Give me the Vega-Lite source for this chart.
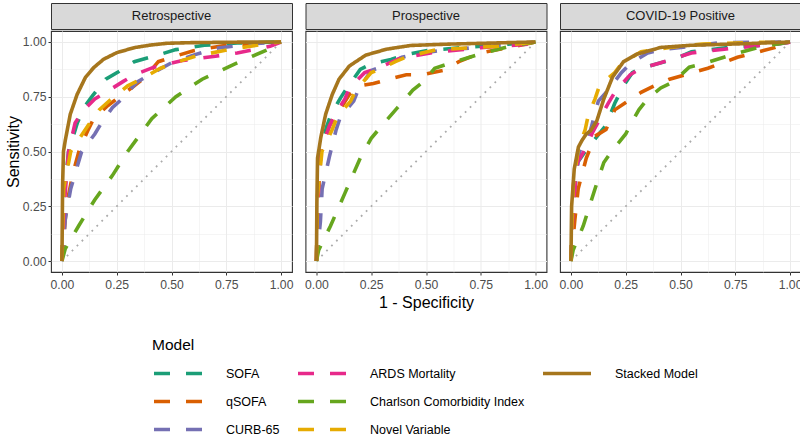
{
  "$schema": "https://vega.github.io/schema/vega-lite/v6.json",
  "padding": {"left": 4, "top": 2, "right": 0, "bottom": 0},
  "background": "white",
  "datasets": {
    "diag": [{"fpr": 0, "tpr": 0}, {"fpr": 1, "tpr": 1}],
    "retro": [
      {"model":"SOFA","fpr":0,"tpr":0},{"model":"SOFA","fpr":0.01,"tpr":0.3},{"model":"SOFA","fpr":0.03,"tpr":0.5},{"model":"SOFA","fpr":0.07,"tpr":0.63},{"model":"SOFA","fpr":0.1,"tpr":0.7},{"model":"SOFA","fpr":0.14,"tpr":0.755},{"model":"SOFA","fpr":0.2,"tpr":0.83},{"model":"SOFA","fpr":0.26,"tpr":0.865},{"model":"SOFA","fpr":0.33,"tpr":0.91},{"model":"SOFA","fpr":0.42,"tpr":0.935},{"model":"SOFA","fpr":0.52,"tpr":0.965},{"model":"SOFA","fpr":0.65,"tpr":0.985},{"model":"SOFA","fpr":0.8,"tpr":0.995},{"model":"SOFA","fpr":1,"tpr":1},
      {"model":"qSOFA","fpr":0,"tpr":0},{"model":"qSOFA","fpr":0.02,"tpr":0.25},{"model":"qSOFA","fpr":0.05,"tpr":0.4},{"model":"qSOFA","fpr":0.08,"tpr":0.51},{"model":"qSOFA","fpr":0.12,"tpr":0.6},{"model":"qSOFA","fpr":0.145,"tpr":0.65},{"model":"qSOFA","fpr":0.21,"tpr":0.71},{"model":"qSOFA","fpr":0.25,"tpr":0.74},{"model":"qSOFA","fpr":0.33,"tpr":0.8},{"model":"qSOFA","fpr":0.38,"tpr":0.84},{"model":"qSOFA","fpr":0.44,"tpr":0.91},{"model":"qSOFA","fpr":0.5,"tpr":0.93},{"model":"qSOFA","fpr":0.6,"tpr":0.96},{"model":"qSOFA","fpr":0.75,"tpr":0.985},{"model":"qSOFA","fpr":1,"tpr":1},
      {"model":"CURB-65","fpr":0,"tpr":0},{"model":"CURB-65","fpr":0.015,"tpr":0.19},{"model":"CURB-65","fpr":0.04,"tpr":0.33},{"model":"CURB-65","fpr":0.09,"tpr":0.5},{"model":"CURB-65","fpr":0.15,"tpr":0.58},{"model":"CURB-65","fpr":0.18,"tpr":0.63},{"model":"CURB-65","fpr":0.23,"tpr":0.7},{"model":"CURB-65","fpr":0.28,"tpr":0.745},{"model":"CURB-65","fpr":0.34,"tpr":0.815},{"model":"CURB-65","fpr":0.4,"tpr":0.85},{"model":"CURB-65","fpr":0.5,"tpr":0.905},{"model":"CURB-65","fpr":0.6,"tpr":0.94},{"model":"CURB-65","fpr":0.7,"tpr":0.97},{"model":"CURB-65","fpr":0.85,"tpr":0.99},{"model":"CURB-65","fpr":1,"tpr":1},
      {"model":"ARDS Mortality","fpr":0,"tpr":0},{"model":"ARDS Mortality","fpr":0.01,"tpr":0.25},{"model":"ARDS Mortality","fpr":0.03,"tpr":0.5},{"model":"ARDS Mortality","fpr":0.06,"tpr":0.63},{"model":"ARDS Mortality","fpr":0.1,"tpr":0.69},{"model":"ARDS Mortality","fpr":0.15,"tpr":0.74},{"model":"ARDS Mortality","fpr":0.2,"tpr":0.77},{"model":"ARDS Mortality","fpr":0.28,"tpr":0.82},{"model":"ARDS Mortality","fpr":0.33,"tpr":0.85},{"model":"ARDS Mortality","fpr":0.42,"tpr":0.885},{"model":"ARDS Mortality","fpr":0.55,"tpr":0.915},{"model":"ARDS Mortality","fpr":0.7,"tpr":0.935},{"model":"ARDS Mortality","fpr":0.8,"tpr":0.95},{"model":"ARDS Mortality","fpr":0.95,"tpr":0.98},{"model":"ARDS Mortality","fpr":1,"tpr":1},
      {"model":"Charlson Comorbidity Index","fpr":0,"tpr":0},{"model":"Charlson Comorbidity Index","fpr":0.015,"tpr":0.056},{"model":"Charlson Comorbidity Index","fpr":0.076,"tpr":0.16},{"model":"Charlson Comorbidity Index","fpr":0.15,"tpr":0.28},{"model":"Charlson Comorbidity Index","fpr":0.23,"tpr":0.39},{"model":"Charlson Comorbidity Index","fpr":0.3,"tpr":0.5},{"model":"Charlson Comorbidity Index","fpr":0.41,"tpr":0.65},{"model":"Charlson Comorbidity Index","fpr":0.52,"tpr":0.75},{"model":"Charlson Comorbidity Index","fpr":0.64,"tpr":0.83},{"model":"Charlson Comorbidity Index","fpr":0.79,"tpr":0.9},{"model":"Charlson Comorbidity Index","fpr":0.95,"tpr":0.97},{"model":"Charlson Comorbidity Index","fpr":1,"tpr":1},
      {"model":"Novel Variable","fpr":0,"tpr":0},{"model":"Novel Variable","fpr":0.008,"tpr":0.33},{"model":"Novel Variable","fpr":0.04,"tpr":0.5},{"model":"Novel Variable","fpr":0.08,"tpr":0.56},{"model":"Novel Variable","fpr":0.12,"tpr":0.62},{"model":"Novel Variable","fpr":0.17,"tpr":0.69},{"model":"Novel Variable","fpr":0.22,"tpr":0.735},{"model":"Novel Variable","fpr":0.3,"tpr":0.8},{"model":"Novel Variable","fpr":0.36,"tpr":0.83},{"model":"Novel Variable","fpr":0.45,"tpr":0.88},{"model":"Novel Variable","fpr":0.5,"tpr":0.9},{"model":"Novel Variable","fpr":0.61,"tpr":0.935},{"model":"Novel Variable","fpr":0.76,"tpr":0.965},{"model":"Novel Variable","fpr":0.92,"tpr":0.99},{"model":"Novel Variable","fpr":1,"tpr":1},
      {"model":"Stacked Model","fpr":0,"tpr":0},{"model":"Stacked Model","fpr":0.003,"tpr":0.35},{"model":"Stacked Model","fpr":0.007,"tpr":0.5},{"model":"Stacked Model","fpr":0.015,"tpr":0.55},{"model":"Stacked Model","fpr":0.038,"tpr":0.67},{"model":"Stacked Model","fpr":0.069,"tpr":0.76},{"model":"Stacked Model","fpr":0.107,"tpr":0.838},{"model":"Stacked Model","fpr":0.145,"tpr":0.883},{"model":"Stacked Model","fpr":0.19,"tpr":0.921},{"model":"Stacked Model","fpr":0.25,"tpr":0.951},{"model":"Stacked Model","fpr":0.33,"tpr":0.974},{"model":"Stacked Model","fpr":0.405,"tpr":0.986},{"model":"Stacked Model","fpr":0.48,"tpr":0.994},{"model":"Stacked Model","fpr":0.6,"tpr":0.997},{"model":"Stacked Model","fpr":0.8,"tpr":0.999},{"model":"Stacked Model","fpr":1,"tpr":1}
    ],
    "pros": [
      {"model":"SOFA","fpr":0,"tpr":0},{"model":"SOFA","fpr":0.005,"tpr":0.25},{"model":"SOFA","fpr":0.02,"tpr":0.5},{"model":"SOFA","fpr":0.045,"tpr":0.61},{"model":"SOFA","fpr":0.065,"tpr":0.665},{"model":"SOFA","fpr":0.11,"tpr":0.745},{"model":"SOFA","fpr":0.14,"tpr":0.79},{"model":"SOFA","fpr":0.2,"tpr":0.875},{"model":"SOFA","fpr":0.25,"tpr":0.9},{"model":"SOFA","fpr":0.34,"tpr":0.92},{"model":"SOFA","fpr":0.4,"tpr":0.94},{"model":"SOFA","fpr":0.5,"tpr":0.96},{"model":"SOFA","fpr":0.67,"tpr":0.975},{"model":"SOFA","fpr":0.82,"tpr":0.985},{"model":"SOFA","fpr":1,"tpr":1},
      {"model":"qSOFA","fpr":0,"tpr":0},{"model":"qSOFA","fpr":0.005,"tpr":0.25},{"model":"qSOFA","fpr":0.02,"tpr":0.5},{"model":"qSOFA","fpr":0.06,"tpr":0.62},{"model":"qSOFA","fpr":0.1,"tpr":0.68},{"model":"qSOFA","fpr":0.15,"tpr":0.76},{"model":"qSOFA","fpr":0.2,"tpr":0.8},{"model":"qSOFA","fpr":0.26,"tpr":0.81},{"model":"qSOFA","fpr":0.33,"tpr":0.83},{"model":"qSOFA","fpr":0.41,"tpr":0.85},{"model":"qSOFA","fpr":0.48,"tpr":0.85},{"model":"qSOFA","fpr":0.58,"tpr":0.87},{"model":"qSOFA","fpr":0.65,"tpr":0.91},{"model":"qSOFA","fpr":0.75,"tpr":0.95},{"model":"qSOFA","fpr":0.88,"tpr":0.975},{"model":"qSOFA","fpr":1,"tpr":1},
      {"model":"CURB-65","fpr":0,"tpr":0},{"model":"CURB-65","fpr":0.018,"tpr":0.18},{"model":"CURB-65","fpr":0.026,"tpr":0.33},{"model":"CURB-65","fpr":0.06,"tpr":0.48},{"model":"CURB-65","fpr":0.09,"tpr":0.6},{"model":"CURB-65","fpr":0.11,"tpr":0.66},{"model":"CURB-65","fpr":0.17,"tpr":0.73},{"model":"CURB-65","fpr":0.19,"tpr":0.78},{"model":"CURB-65","fpr":0.25,"tpr":0.87},{"model":"CURB-65","fpr":0.31,"tpr":0.89},{"model":"CURB-65","fpr":0.39,"tpr":0.93},{"model":"CURB-65","fpr":0.45,"tpr":0.945},{"model":"CURB-65","fpr":0.56,"tpr":0.96},{"model":"CURB-65","fpr":0.79,"tpr":0.98},{"model":"CURB-65","fpr":1,"tpr":1},
      {"model":"ARDS Mortality","fpr":0,"tpr":0},{"model":"ARDS Mortality","fpr":0.005,"tpr":0.25},{"model":"ARDS Mortality","fpr":0.02,"tpr":0.5},{"model":"ARDS Mortality","fpr":0.057,"tpr":0.61},{"model":"ARDS Mortality","fpr":0.08,"tpr":0.66},{"model":"ARDS Mortality","fpr":0.13,"tpr":0.74},{"model":"ARDS Mortality","fpr":0.15,"tpr":0.79},{"model":"ARDS Mortality","fpr":0.22,"tpr":0.86},{"model":"ARDS Mortality","fpr":0.28,"tpr":0.88},{"model":"ARDS Mortality","fpr":0.38,"tpr":0.925},{"model":"ARDS Mortality","fpr":0.52,"tpr":0.95},{"model":"ARDS Mortality","fpr":0.75,"tpr":0.974},{"model":"ARDS Mortality","fpr":0.97,"tpr":0.99},{"model":"ARDS Mortality","fpr":1,"tpr":1},
      {"model":"Charlson Comorbidity Index","fpr":0,"tpr":0},{"model":"Charlson Comorbidity Index","fpr":0.01,"tpr":0.05},{"model":"Charlson Comorbidity Index","fpr":0.064,"tpr":0.16},{"model":"Charlson Comorbidity Index","fpr":0.13,"tpr":0.31},{"model":"Charlson Comorbidity Index","fpr":0.2,"tpr":0.47},{"model":"Charlson Comorbidity Index","fpr":0.25,"tpr":0.56},{"model":"Charlson Comorbidity Index","fpr":0.3,"tpr":0.62},{"model":"Charlson Comorbidity Index","fpr":0.37,"tpr":0.7},{"model":"Charlson Comorbidity Index","fpr":0.44,"tpr":0.78},{"model":"Charlson Comorbidity Index","fpr":0.49,"tpr":0.82},{"model":"Charlson Comorbidity Index","fpr":0.54,"tpr":0.88},{"model":"Charlson Comorbidity Index","fpr":0.6,"tpr":0.9},{"model":"Charlson Comorbidity Index","fpr":0.73,"tpr":0.94},{"model":"Charlson Comorbidity Index","fpr":0.88,"tpr":0.98},{"model":"Charlson Comorbidity Index","fpr":1,"tpr":1},
      {"model":"Novel Variable","fpr":0,"tpr":0},{"model":"Novel Variable","fpr":0.005,"tpr":0.3},{"model":"Novel Variable","fpr":0.025,"tpr":0.5},{"model":"Novel Variable","fpr":0.072,"tpr":0.6},{"model":"Novel Variable","fpr":0.095,"tpr":0.66},{"model":"Novel Variable","fpr":0.156,"tpr":0.73},{"model":"Novel Variable","fpr":0.18,"tpr":0.78},{"model":"Novel Variable","fpr":0.25,"tpr":0.86},{"model":"Novel Variable","fpr":0.3,"tpr":0.88},{"model":"Novel Variable","fpr":0.36,"tpr":0.91},{"model":"Novel Variable","fpr":0.42,"tpr":0.935},{"model":"Novel Variable","fpr":0.55,"tpr":0.965},{"model":"Novel Variable","fpr":0.82,"tpr":0.98},{"model":"Novel Variable","fpr":1,"tpr":1},
      {"model":"Stacked Model","fpr":0,"tpr":0},{"model":"Stacked Model","fpr":0.002,"tpr":0.27},{"model":"Stacked Model","fpr":0.005,"tpr":0.47},{"model":"Stacked Model","fpr":0.02,"tpr":0.565},{"model":"Stacked Model","fpr":0.042,"tpr":0.67},{"model":"Stacked Model","fpr":0.072,"tpr":0.76},{"model":"Stacked Model","fpr":0.103,"tpr":0.83},{"model":"Stacked Model","fpr":0.15,"tpr":0.89},{"model":"Stacked Model","fpr":0.225,"tpr":0.94},{"model":"Stacked Model","fpr":0.32,"tpr":0.967},{"model":"Stacked Model","fpr":0.43,"tpr":0.984},{"model":"Stacked Model","fpr":0.6,"tpr":0.99},{"model":"Stacked Model","fpr":0.8,"tpr":0.995},{"model":"Stacked Model","fpr":1,"tpr":1}
    ],
    "covid": [
      {"model":"SOFA","fpr":0,"tpr":0},{"model":"SOFA","fpr":0.01,"tpr":0.25},{"model":"SOFA","fpr":0.03,"tpr":0.45},{"model":"SOFA","fpr":0.065,"tpr":0.5},{"model":"SOFA","fpr":0.12,"tpr":0.57},{"model":"SOFA","fpr":0.16,"tpr":0.62},{"model":"SOFA","fpr":0.2,"tpr":0.72},{"model":"SOFA","fpr":0.24,"tpr":0.8},{"model":"SOFA","fpr":0.28,"tpr":0.86},{"model":"SOFA","fpr":0.32,"tpr":0.88},{"model":"SOFA","fpr":0.41,"tpr":0.905},{"model":"SOFA","fpr":0.47,"tpr":0.92},{"model":"SOFA","fpr":0.55,"tpr":0.955},{"model":"SOFA","fpr":0.72,"tpr":0.975},{"model":"SOFA","fpr":0.94,"tpr":0.99},{"model":"SOFA","fpr":1,"tpr":1},
      {"model":"qSOFA","fpr":0,"tpr":0},{"model":"qSOFA","fpr":0.018,"tpr":0.19},{"model":"qSOFA","fpr":0.033,"tpr":0.33},{"model":"qSOFA","fpr":0.07,"tpr":0.47},{"model":"qSOFA","fpr":0.11,"tpr":0.57},{"model":"qSOFA","fpr":0.16,"tpr":0.6},{"model":"qSOFA","fpr":0.2,"tpr":0.69},{"model":"qSOFA","fpr":0.26,"tpr":0.73},{"model":"qSOFA","fpr":0.32,"tpr":0.77},{"model":"qSOFA","fpr":0.38,"tpr":0.8},{"model":"qSOFA","fpr":0.45,"tpr":0.83},{"model":"qSOFA","fpr":0.52,"tpr":0.85},{"model":"qSOFA","fpr":0.625,"tpr":0.88},{"model":"qSOFA","fpr":0.76,"tpr":0.93},{"model":"qSOFA","fpr":0.93,"tpr":0.974},{"model":"qSOFA","fpr":1,"tpr":1},
      {"model":"CURB-65","fpr":0,"tpr":0},{"model":"CURB-65","fpr":0.01,"tpr":0.3},{"model":"CURB-65","fpr":0.04,"tpr":0.5},{"model":"CURB-65","fpr":0.09,"tpr":0.6},{"model":"CURB-65","fpr":0.125,"tpr":0.73},{"model":"CURB-65","fpr":0.17,"tpr":0.78},{"model":"CURB-65","fpr":0.23,"tpr":0.86},{"model":"CURB-65","fpr":0.27,"tpr":0.9},{"model":"CURB-65","fpr":0.35,"tpr":0.95},{"model":"CURB-65","fpr":0.41,"tpr":0.965},{"model":"CURB-65","fpr":0.55,"tpr":0.98},{"model":"CURB-65","fpr":0.68,"tpr":0.997},{"model":"CURB-65","fpr":1,"tpr":1},
      {"model":"ARDS Mortality","fpr":0,"tpr":0},{"model":"ARDS Mortality","fpr":0.01,"tpr":0.25},{"model":"ARDS Mortality","fpr":0.03,"tpr":0.45},{"model":"ARDS Mortality","fpr":0.07,"tpr":0.52},{"model":"ARDS Mortality","fpr":0.1,"tpr":0.59},{"model":"ARDS Mortality","fpr":0.17,"tpr":0.72},{"model":"ARDS Mortality","fpr":0.2,"tpr":0.77},{"model":"ARDS Mortality","fpr":0.27,"tpr":0.85},{"model":"ARDS Mortality","fpr":0.32,"tpr":0.88},{"model":"ARDS Mortality","fpr":0.41,"tpr":0.905},{"model":"ARDS Mortality","fpr":0.47,"tpr":0.925},{"model":"ARDS Mortality","fpr":0.55,"tpr":0.95},{"model":"ARDS Mortality","fpr":0.7,"tpr":0.967},{"model":"ARDS Mortality","fpr":0.99,"tpr":0.997},{"model":"ARDS Mortality","fpr":1,"tpr":1},
      {"model":"Charlson Comorbidity Index","fpr":0,"tpr":0},{"model":"Charlson Comorbidity Index","fpr":0.01,"tpr":0.05},{"model":"Charlson Comorbidity Index","fpr":0.056,"tpr":0.16},{"model":"Charlson Comorbidity Index","fpr":0.11,"tpr":0.33},{"model":"Charlson Comorbidity Index","fpr":0.15,"tpr":0.45},{"model":"Charlson Comorbidity Index","fpr":0.185,"tpr":0.5},{"model":"Charlson Comorbidity Index","fpr":0.25,"tpr":0.58},{"model":"Charlson Comorbidity Index","fpr":0.27,"tpr":0.62},{"model":"Charlson Comorbidity Index","fpr":0.31,"tpr":0.69},{"model":"Charlson Comorbidity Index","fpr":0.35,"tpr":0.74},{"model":"Charlson Comorbidity Index","fpr":0.41,"tpr":0.79},{"model":"Charlson Comorbidity Index","fpr":0.47,"tpr":0.82},{"model":"Charlson Comorbidity Index","fpr":0.54,"tpr":0.885},{"model":"Charlson Comorbidity Index","fpr":0.6,"tpr":0.9},{"model":"Charlson Comorbidity Index","fpr":0.73,"tpr":0.94},{"model":"Charlson Comorbidity Index","fpr":0.85,"tpr":0.974},{"model":"Charlson Comorbidity Index","fpr":1,"tpr":1},
      {"model":"Novel Variable","fpr":0,"tpr":0},{"model":"Novel Variable","fpr":0.01,"tpr":0.34},{"model":"Novel Variable","fpr":0.033,"tpr":0.51},{"model":"Novel Variable","fpr":0.065,"tpr":0.6},{"model":"Novel Variable","fpr":0.08,"tpr":0.67},{"model":"Novel Variable","fpr":0.11,"tpr":0.74},{"model":"Novel Variable","fpr":0.13,"tpr":0.8},{"model":"Novel Variable","fpr":0.2,"tpr":0.86},{"model":"Novel Variable","fpr":0.23,"tpr":0.9},{"model":"Novel Variable","fpr":0.32,"tpr":0.955},{"model":"Novel Variable","fpr":0.45,"tpr":0.975},{"model":"Novel Variable","fpr":0.6,"tpr":0.99},{"model":"Novel Variable","fpr":0.8,"tpr":0.997},{"model":"Novel Variable","fpr":1,"tpr":1},
      {"model":"Stacked Model","fpr":0,"tpr":0},{"model":"Stacked Model","fpr":0.003,"tpr":0.25},{"model":"Stacked Model","fpr":0.015,"tpr":0.42},{"model":"Stacked Model","fpr":0.034,"tpr":0.52},{"model":"Stacked Model","fpr":0.05,"tpr":0.55},{"model":"Stacked Model","fpr":0.07,"tpr":0.58},{"model":"Stacked Model","fpr":0.09,"tpr":0.595},{"model":"Stacked Model","fpr":0.118,"tpr":0.64},{"model":"Stacked Model","fpr":0.15,"tpr":0.74},{"model":"Stacked Model","fpr":0.19,"tpr":0.84},{"model":"Stacked Model","fpr":0.24,"tpr":0.91},{"model":"Stacked Model","fpr":0.3,"tpr":0.944},{"model":"Stacked Model","fpr":0.41,"tpr":0.975},{"model":"Stacked Model","fpr":0.55,"tpr":0.985},{"model":"Stacked Model","fpr":0.79,"tpr":0.992},{"model":"Stacked Model","fpr":1,"tpr":1}
    ]
  },
  "spacing": 9.5,
  "hconcat": [
    {
      "spacing": 0,
      "vconcat": [
        {"width": 241, "height": 26, "data": {"values": [{"label": "Retrospective"}]}, "mark": {"type": "text", "fontSize": 13, "color": "#1A1A1A"}, "encoding": {"text": {"field": "label"}}, "view": {"fill": "#D9D9D9", "stroke": "#333333"}},
        {
          "width": 241, "height": 241,
          "encoding": {
            "x": {"field": "fpr", "type": "quantitative", "scale": {"domain": [-0.05, 1.05], "nice": false, "zero": false},
              "axis": {"title": null, "values": [0,0.125,0.25,0.375,0.5,0.625,0.75,0.875,1], "labelExpr": "abs(datum.value*4-round(datum.value*4))<0.001 ? format(datum.value,'.2f') : ''", "tickOpacity": {"condition": {"test": "abs(datum.value*4-round(datum.value*4))<0.001", "value": 1}, "value": 0}, "gridWidth": {"condition": {"test": "abs(datum.value*4-round(datum.value*4))<0.001", "value": 1}, "value": 0.5}}},
            "y": {"field": "tpr", "type": "quantitative", "scale": {"domain": [-0.05, 1.05], "nice": false, "zero": false},
              "axis": {"title": "Sensitivity", "values": [0,0.125,0.25,0.375,0.5,0.625,0.75,0.875,1], "labelExpr": "abs(datum.value*4-round(datum.value*4))<0.001 ? format(datum.value,'.2f') : ''", "tickOpacity": {"condition": {"test": "abs(datum.value*4-round(datum.value*4))<0.001", "value": 1}, "value": 0}, "gridWidth": {"condition": {"test": "abs(datum.value*4-round(datum.value*4))<0.001", "value": 1}, "value": 0.5}}}
          },
          "layer": [
            {"data": {"name": "diag"}, "mark": {"type": "line", "color": "#ABABAB", "strokeDash": [1.8, 5.2], "strokeWidth": 1.8}},
            {"data": {"name": "retro"}, "mark": {"type": "line", "strokeWidth": 3.6, "strokeCap": "butt"},
             "encoding": {
               "color": {"field": "model", "type": "nominal", "title": "Model", "scale": {"domain": ["SOFA","qSOFA","CURB-65","ARDS Mortality","Charlson Comorbidity Index","Novel Variable","Stacked Model"," "], "range": ["#1B9E77","#D95F02","#7570B3","#E7298A","#66A61E","#E6AB02","#A6761D","rgba(255,255,255,0)"]}},
               "strokeDash": {"field": "model", "type": "nominal", "title": "Model", "scale": {"domain": ["SOFA","qSOFA","CURB-65","ARDS Mortality","Charlson Comorbidity Index","Novel Variable","Stacked Model"," "], "range": [[16,16],[16,16],[16,16],[16,16],[16,16],[16,16],[1,0],[1,0]]}}
             }}
          ]
        }
      ]
    },
    {
      "spacing": 0,
      "vconcat": [
        {"width": 241, "height": 26, "data": {"values": [{"label": "Prospective"}]}, "mark": {"type": "text", "fontSize": 13, "color": "#1A1A1A"}, "encoding": {"text": {"field": "label"}}, "view": {"fill": "#D9D9D9", "stroke": "#333333"}},
        {
          "width": 241, "height": 241,
          "encoding": {
            "x": {"field": "fpr", "type": "quantitative", "scale": {"domain": [-0.05, 1.05], "nice": false, "zero": false},
              "axis": {"title": "1 - Specificity", "values": [0,0.125,0.25,0.375,0.5,0.625,0.75,0.875,1], "labelExpr": "abs(datum.value*4-round(datum.value*4))<0.001 ? format(datum.value,'.2f') : ''", "tickOpacity": {"condition": {"test": "abs(datum.value*4-round(datum.value*4))<0.001", "value": 1}, "value": 0}, "gridWidth": {"condition": {"test": "abs(datum.value*4-round(datum.value*4))<0.001", "value": 1}, "value": 0.5}}},
            "y": {"field": "tpr", "type": "quantitative", "scale": {"domain": [-0.05, 1.05], "nice": false, "zero": false},
              "axis": {"title": null, "labels": false, "ticks": false, "values": [0,0.125,0.25,0.375,0.5,0.625,0.75,0.875,1], "gridWidth": {"condition": {"test": "abs(datum.value*4-round(datum.value*4))<0.001", "value": 1}, "value": 0.5}}}
          },
          "layer": [
            {"data": {"name": "diag"}, "mark": {"type": "line", "color": "#ABABAB", "strokeDash": [1.8, 5.2], "strokeWidth": 1.8}},
            {"data": {"name": "pros"}, "mark": {"type": "line", "strokeWidth": 3.6, "strokeCap": "butt"},
             "encoding": {
               "color": {"field": "model", "type": "nominal", "title": "Model", "scale": {"domain": ["SOFA","qSOFA","CURB-65","ARDS Mortality","Charlson Comorbidity Index","Novel Variable","Stacked Model"," "], "range": ["#1B9E77","#D95F02","#7570B3","#E7298A","#66A61E","#E6AB02","#A6761D","rgba(255,255,255,0)"]}},
               "strokeDash": {"field": "model", "type": "nominal", "title": "Model", "scale": {"domain": ["SOFA","qSOFA","CURB-65","ARDS Mortality","Charlson Comorbidity Index","Novel Variable","Stacked Model"," "], "range": [[16,16],[16,16],[16,16],[16,16],[16,16],[16,16],[1,0],[1,0]]}}
             }}
          ]
        }
      ]
    },
    {
      "spacing": 0,
      "vconcat": [
        {"width": 241, "height": 26, "data": {"values": [{"label": "COVID-19 Positive"}]}, "mark": {"type": "text", "fontSize": 13, "color": "#1A1A1A"}, "encoding": {"text": {"field": "label"}}, "view": {"fill": "#D9D9D9", "stroke": "#333333"}},
        {
          "width": 241, "height": 241,
          "encoding": {
            "x": {"field": "fpr", "type": "quantitative", "scale": {"domain": [-0.05, 1.05], "nice": false, "zero": false},
              "axis": {"title": null, "values": [0,0.125,0.25,0.375,0.5,0.625,0.75,0.875,1], "labelExpr": "abs(datum.value*4-round(datum.value*4))<0.001 ? format(datum.value,'.2f') : ''", "tickOpacity": {"condition": {"test": "abs(datum.value*4-round(datum.value*4))<0.001", "value": 1}, "value": 0}, "gridWidth": {"condition": {"test": "abs(datum.value*4-round(datum.value*4))<0.001", "value": 1}, "value": 0.5}}},
            "y": {"field": "tpr", "type": "quantitative", "scale": {"domain": [-0.05, 1.05], "nice": false, "zero": false},
              "axis": {"title": null, "labels": false, "ticks": false, "values": [0,0.125,0.25,0.375,0.5,0.625,0.75,0.875,1], "gridWidth": {"condition": {"test": "abs(datum.value*4-round(datum.value*4))<0.001", "value": 1}, "value": 0.5}}}
          },
          "layer": [
            {"data": {"name": "diag"}, "mark": {"type": "line", "color": "#ABABAB", "strokeDash": [1.8, 5.2], "strokeWidth": 1.8}},
            {"data": {"name": "covid"}, "mark": {"type": "line", "strokeWidth": 3.6, "strokeCap": "butt"},
             "encoding": {
               "color": {"field": "model", "type": "nominal", "title": "Model", "scale": {"domain": ["SOFA","qSOFA","CURB-65","ARDS Mortality","Charlson Comorbidity Index","Novel Variable","Stacked Model"," "], "range": ["#1B9E77","#D95F02","#7570B3","#E7298A","#66A61E","#E6AB02","#A6761D","rgba(255,255,255,0)"]}},
               "strokeDash": {"field": "model", "type": "nominal", "title": "Model", "scale": {"domain": ["SOFA","qSOFA","CURB-65","ARDS Mortality","Charlson Comorbidity Index","Novel Variable","Stacked Model"," "], "range": [[16,16],[16,16],[16,16],[16,16],[16,16],[16,16],[1,0],[1,0]]}}
             }}
          ]
        }
      ]
    }
  ],
  "config": {
    "font": "Liberation Sans",
    "view": {"stroke": "#333333", "strokeWidth": 1.1},
    "axis": {"domain": false, "tickColor": "#333333", "tickSize": 3, "tickWidth": 1, "labelColor": "#4D4D4D", "labelFontSize": 12.2, "titleFontSize": 16, "titleFontWeight": "normal", "titleColor": "#000000", "gridColor": "#EBEBEB", "labelFlush": false, "labelOverlap": false, "labelPadding": 3},
    "axisX": {"titlePadding": 4},
    "axisY": {"titlePadding": 1, "labelPadding": 2},
    "legend": {"orient": "none", "legendX": 101, "legendY": 335, "columns": 3, "symbolType": "stroke", "symbolSize": 2304, "symbolStrokeWidth": 3.6, "labelFontSize": 12.5, "labelColor": "#000000", "titleFontSize": 15.5, "titleFontWeight": "normal", "titleColor": "#000000", "clipHeight": 16, "rowPadding": 12, "columnPadding": 16, "labelOffset": 22, "titlePadding": 12}
  }
}
